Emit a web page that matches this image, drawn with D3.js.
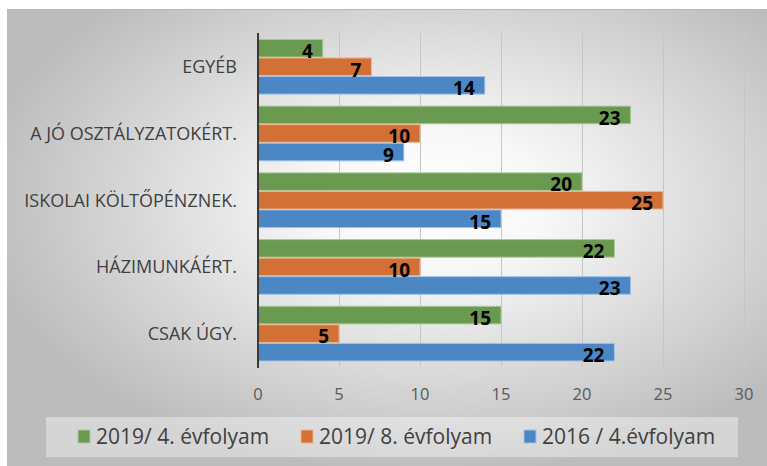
<!DOCTYPE html>
<html>
<head>
  <meta charset="UTF-8">
  <style>
    body { margin: 0; background: white; }
    svg { display: block; }
    .catLabel { font-family: "Open Sans", sans-serif; font-size: 18px; fill: #404040; }
    .tickLabel { font-family: "Open Sans", sans-serif; font-size: 16.5px; fill: #595959; }
    .valLabel { font-family: "Open Sans", sans-serif; font-size: 19px; font-weight: bold; fill: #000; }
    .legText { font-family: "Open Sans", sans-serif; font-size: 21px; fill: #404040; }
  </style>
</head>
<body>
<div id="chart"></div>
<script src="https://d3js.org/d3.v7.min.js"></script>
<script>

let categories = ["EGYÉB", "A JÓ OSZTÁLYZATOKÉRT.", "ISKOLAI KÖLTŐPÉNZNEK.", "HÁZIMUNKÁÉRT.", "CSAK ÚGY."];
let seriesNames = ["2019/ 4. évfolyam", "2019/ 8. évfolyam", "2016 / 4.évfolyam"];
let grade4_2019 = [4, 23, 20, 22, 15];
let grade8_2019 = [7, 10, 25, 10, 5];
let grade4_2016 = [14, 9, 15, 23, 22];
let xTicks = [0, 5, 10, 15, 20, 25, 30];

let colors = ["#6a9a50", "#d27035", "#4b87c4"];
let strokes = ["#a9c99a", "#f0b48c", "#a3c3e6"];

let width = 767, height = 466;

let svg = d3.select("#chart").append("svg")
    .attr("width", width)
    .attr("height", height);

// background with radial shading
let grad = svg.append("defs").append("radialGradient")
    .attr("id", "bg")
    .attr("cx", 0.56).attr("cy", 0.42).attr("r", 0.6);
grad.append("stop").attr("offset", 0).attr("stop-color", "#ffffff");
grad.append("stop").attr("offset", 0.25).attr("stop-color", "#f8f8f8");
grad.append("stop").attr("offset", 1).attr("stop-color", "#bcbcbc");

svg.append("rect")
    .attr("x", 7).attr("y", 9)
    .attr("width", width - 7).attr("height", height - 9)
    .attr("fill", "url(#bg)");
svg.append("line")
    .attr("x1", 7).attr("x2", width)
    .attr("y1", 9.5).attr("y2", 9.5)
    .attr("stroke", "#b8b8b8");

let x = d3.scaleLinear().domain([0, 30]).range([258, 744]);
let y = d3.scaleBand().domain(categories).range([33.4, 367]).paddingInner(0.18).paddingOuter(0.09);
let ySub = d3.scaleBand().domain(seriesNames).range([0, y.bandwidth()]).paddingInner(0.05);

let table = categories.map((c, i) => ({
    cat: c,
    vals: [grade4_2019[i], grade8_2019[i], grade4_2016[i]]
}));

// gridlines
svg.append("g")
    .selectAll("line")
    .data(xTicks.slice(1))
    .enter()
    .append("line")
    .attr("x1", d => x(d) + 0.5).attr("x2", d => x(d) + 0.5)
    .attr("y1", 33).attr("y2", 367)
    .attr("stroke", "#c6c6c6")
    .attr("stroke-width", 1);

// tick labels
svg.append("g")
    .selectAll("text")
    .data(xTicks)
    .enter()
    .append("text")
    .attr("class", "tickLabel")
    .attr("x", d => x(d))
    .attr("y", 400)
    .attr("text-anchor", "middle")
    .text(d => d);

// bars
let groups = svg.append("g")
    .selectAll("g")
    .data(table)
    .enter()
    .append("g")
    .attr("transform", d => "translate(0," + y(d.cat) + ")");

groups.selectAll("rect")
    .data(d => d.vals.map((v, j) => ({ v: v, s: seriesNames[j], j: j })))
    .enter()
    .append("rect")
    .attr("x", x(0))
    .attr("y", d => ySub(d.s))
    .attr("width", d => x(d.v) - x(0))
    .attr("height", ySub.bandwidth())
    .attr("fill", d => colors[d.j])
    .attr("stroke", d => strokes[d.j])
    .attr("stroke-width", 1);

groups.selectAll("text")
    .data(d => d.vals.map((v, j) => ({ v: v, s: seriesNames[j], j: j })))
    .enter()
    .append("text")
    .attr("class", "valLabel")
    .attr("x", d => x(d.v) - 10)
    .attr("y", d => ySub(d.s) + ySub.bandwidth() + 1)
    .attr("text-anchor", "end")
    .text(d => d.v);

// category labels
svg.append("g")
    .selectAll("text")
    .data(categories)
    .enter()
    .append("text")
    .attr("class", "catLabel")
    .attr("x", 237)
    .attr("y", d => y(d) + y.bandwidth() / 2)
    .attr("dy", "0.35em")
    .attr("text-anchor", "end")
    .text(d => d);

// value axis line
svg.append("line")
    .attr("x1", x(0)).attr("x2", x(0))
    .attr("y1", 33).attr("y2", 368)
    .attr("stroke", "#3a3a3a")
    .attr("stroke-width", 2);

// legend
svg.append("rect")
    .attr("x", 46).attr("y", 417)
    .attr("width", 692).attr("height", 40)
    .attr("fill", "rgba(255,255,255,0.38)");

let legX = [78, 301, 524];
let leg = svg.append("g")
    .selectAll("g")
    .data(seriesNames)
    .enter()
    .append("g")
    .attr("transform", (d, i) => "translate(" + legX[i] + ",430)");

leg.append("rect")
    .attr("width", 12).attr("height", 13)
    .attr("fill", (d, i) => colors[i])
    .attr("stroke", (d, i) => strokes[i]);

leg.append("text")
    .attr("class", "legText")
    .attr("x", 18)
    .attr("y", 14)
    .text(d => d);

</script>
</body>
</html>
